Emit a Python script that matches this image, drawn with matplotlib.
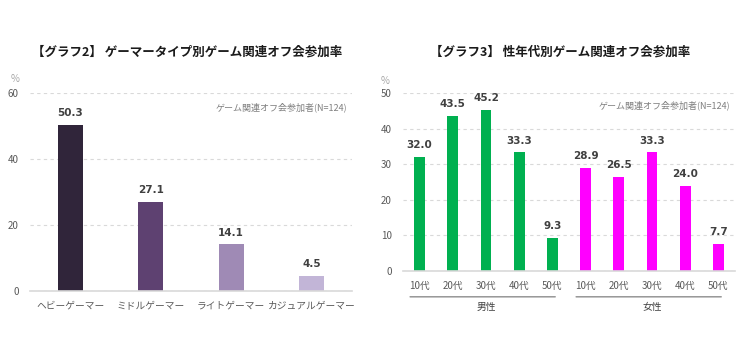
import matplotlib
matplotlib.use("Agg")
import matplotlib.pyplot as plt

plt.rcParams['font.family'] = ['Noto Sans CJK JP', 'DejaVu Sans']

# graph 2
types = ['ヘビーゲーマー', 'ミドルゲーマー', 'ライトゲーマー', 'カジュアルゲーマー']
type_vals = [50.3, 27.1, 14.1, 4.5]
type_colors = ['#30253a', '#5e4171', '#9f8ab5', '#c2b5d7']

# graph 3
ages = ['10代', '20代', '30代', '40代', '50代']
male_vals = [32.0, 43.5, 45.2, 33.3, 9.3]
female_vals = [28.9, 26.5, 33.3, 24.0, 7.7]
groups = ['男性', '女性']

note = 'ゲーム関連オフ会参加者(N=124)'
grid_c = '#d9d9d9'
txt_c = '#595959'

fig = plt.figure(figsize=(7.5, 3.61), dpi=100)

def style(ax, ymax, step):
    ax.set_ylim(0, ymax)
    ax.set_yticks(range(0, ymax + 1, step))
    for s in ['top', 'right', 'left']:
        ax.spines[s].set_visible(False)
    ax.spines['bottom'].set_color(grid_c)
    ax.spines['bottom'].set_linewidth(1.2)
    ax.grid(axis='y', color=grid_c, linestyle=(0, (3, 3)), linewidth=0.8)
    ax.set_axisbelow(True)
    ax.tick_params(length=0, labelsize=7, colors=txt_c)
    ax.tick_params(axis='y', pad=8)
    ax.tick_params(axis='x', pad=7)

def values(ax, xs, vals):
    for i, v in zip(xs, vals):
        ax.annotate(f'{v:.1f}', (i, v), xytext=(0, 5), textcoords='offset points',
                    ha='center', va='bottom', fontsize=7.5, fontweight='bold',
                    color='#404040', family='DejaVu Sans')

# left chart
ax1 = fig.add_axes([0.04, 0.1939, 0.4293, 0.5485])
x1 = range(len(types))
ax1.bar(x1, type_vals, width=0.31, color=type_colors)
ax1.set_xlim(-0.5, 3.5)
ax1.set_xticks(list(x1))
ax1.set_xticklabels(types, fontsize=6.5)
style(ax1, 60, 20)
values(ax1, x1, type_vals)
ax1.text(0.985, 0.93, note, transform=ax1.transAxes, ha='right', va='center',
         fontsize=6.5, color='#7f7f7f')
ax1.text(-0.045, 1.07, '%', transform=ax1.transAxes, ha='center', va='center',
         fontsize=7, color='#a6a6a6')
fig.text(0.25, 0.857, '【グラフ2】 ゲーマータイプ別ゲーム関連オフ会参加率',
         ha='center', va='center', fontsize=9, fontweight='bold', color='#1a1a1a')

# right chart
ax2 = fig.add_axes([0.5373, 0.2493, 0.4427, 0.4931])
n = len(ages)
xm = list(range(n))
xf = list(range(n, 2 * n))
ax2.bar(xm, male_vals, width=0.33, color='#00b050')
ax2.bar(xf, female_vals, width=0.33, color='#ff00ff')
ax2.set_xlim(-0.5, 2 * n - 0.5)
ax2.set_xticks(xm + xf)
ax2.set_xticklabels(ages + ages, fontsize=7)
style(ax2, 50, 10)
values(ax2, xm + xf, male_vals + female_vals)
ax2.text(0.985, 0.93, note, transform=ax2.transAxes, ha='right', va='center',
         fontsize=6.5, color='#7f7f7f')
ax2.text(-0.055, 1.07, '%', transform=ax2.transAxes, ha='center', va='center',
         fontsize=7, color='#a6a6a6')
for g, xs in zip(groups, [xm, xf]):
    ax2.annotate('', xy=(xs[0] - 0.37, -0.145), xytext=(xs[-1] + 0.17, -0.145),
                 xycoords=('data', 'axes fraction'), textcoords=('data', 'axes fraction'),
                 arrowprops=dict(arrowstyle='-', color='#8c8c8c', lw=1))
    ax2.annotate(g, xy=((xs[0] + xs[-1]) / 2, -0.2), xycoords=('data', 'axes fraction'),
                 ha='center', va='center', fontsize=7, color='#404040')
fig.text(0.747, 0.857, '【グラフ3】 性年代別ゲーム関連オフ会参加率',
         ha='center', va='center', fontsize=9, fontweight='bold', color='#1a1a1a')

fig.savefig('out.png', dpi=100, facecolor='white')
